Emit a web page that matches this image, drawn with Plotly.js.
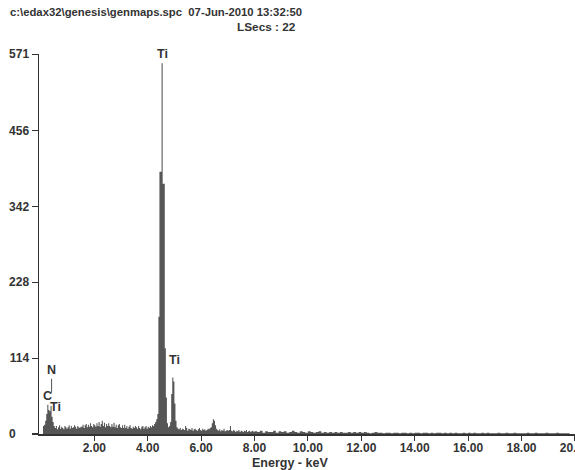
<!DOCTYPE html>
<html>
<head>
<meta charset="utf-8">
<script src="https://cdn.plot.ly/plotly-3.0.1.min.js"></script>
<style>html,body{margin:0;padding:0;background:#fff;}#chart{width:575px;height:470px;}</style>
</head>
<body>
<div id="chart"></div>
<script>
// EDS spectrum, counts per channel
// Segment A: 0.04 keV channels from 0 to 8 keV
var chanWidthA = 0.04;
var countsA = [
  0,0,12,14,20,30,44,36,34,42,26,18,12,
  9,12,7,10,13,8,11,9,7,12,10,8,
  10,13,8,12,9,10,13,11,8,12,10,9,11,
  11,14,9,13,15,10,14,11,16,12,10,15,13,
  11,16,12,18,11,15,20,12,17,10,15,12,
  16,12,10,15,11,17,10,14,9,13,15,10,9,
  13,9,14,9,12,8,11,13,9,8,11,9,12,
  10,8,12,9,7,11,12,8,10,12,8,11,9,12,10,13,12,
  15,18,22,
  30,176,394,394,557,376,376,129,55,16,
  10,12,18,
  60,85,79,46,20,
  10,8,7,9,6,8,7,6,12,9,5,8,7,6,9,5,7,8,6,5,7,9,6,5,8,6,7,5,6,8,7,9,
  10,16,22,20,13,8,
  6,5,7,4,6,5,8,4,5,6,5,6,12,5,4,6,5,3,5,4,6,3,5,4,3,5,4,6,3,4,5,3,4,5,3
];
// Segment B: 0.1 keV channels from 8 to 20 keV
var startB = 8.0;
var chanWidthB = 0.1;
var countsB = [
  4,3,5,2,4,3,3,5,2,4,
  3,4,2,3,5,3,2,4,3,2,
  4,3,2,3,4,2,3,2,3,2,
  3,2,3,2,2,3,2,3,2,3,
  2,3,2,1,2,3,2,2,1,2,
  2,1,2,2,1,2,2,1,2,1,
  2,2,1,2,2,1,2,1,2,2,
  1,2,1,2,1,2,1,1,2,1,
  2,1,2,1,1,2,1,2,1,1,
  1,2,1,1,2,1,1,2,1,1,
  1,1,2,1,1,2,1,1,1,2,
  1,1,1,2,1,1,1,1,0,0
];
var xTickVals = [2,4,6,8,10,12,14,16,18,20];
var xTickText = ["2.00","4.00","6.00","8.00","10.00","12.00","14.00","16.00","18.00","20.00"];
var yTickVals = [0,114,228,342,456,571];
var yTickText = ["0\u2007\u2007","114","228","342","456","571"];
// peak labels: [text, energy keV, counts]
var peakLabels = [
  ["Ti", 4.56, 571],
  ["Ti", 5.02, 111],
  ["N", 0.38, 96],
  ["C", 0.25, 57],
  ["Ti", 0.53, 40]
];
var headerLine1 = "c:\\edax32\\genesis\\genmaps.spc  07-Jun-2010 13:32:50";
var headerLine2 = "LSecs : 22";
var xTitle = "Energy - keV";

var xs = [], ys = [];
countsA.forEach(function(c, i){ xs.push(i*chanWidthA); ys.push(c); });
countsB.forEach(function(c, j){ xs.push(startB + j*chanWidthB); ys.push(c); });
xs.push(20.0); ys.push(0);

var fontFam = "Liberation Sans, Arial, sans-serif";
var txtColor = "#333333";
var yMax = 571;

var trace = {
  x: xs, y: ys, type: "scatter", mode: "lines",
  line: {shape: "hv", width: 0, color: "#565656"},
  fill: "tozeroy", fillcolor: "#565656",
  hoverinfo: "skip"
};

var ann = peakLabels.map(function(p){
  return {text: p[0], x: p[1], y: p[2] / yMax, xref: "x", yref: "paper", showarrow: false,
    font: {family: fontFam, size: 12.5, color: txtColor, weight: "bold"}, xanchor: "center", yanchor: "middle"};
});
ann.push({text: headerLine1, xref: "paper", yref: "paper", x: -31/536, y: 1 + 42/380, xanchor: "left", yanchor: "middle",
  showarrow: false, font: {family: fontFam, size: 11.3, color: txtColor, weight: "bold"}});
ann.push({text: headerLine2, xref: "paper", yref: "paper", x: (298-39)/536, y: 1 + 27/380, xanchor: "right", yanchor: "middle",
  showarrow: false, font: {family: fontFam, size: 11.8, color: txtColor, weight: "bold"}});
ann.push({text: xTitle, xref: "paper", yref: "paper", x: (290-39)/536, y: -(463-434)/380, xanchor: "center", yanchor: "middle",
  showarrow: false, font: {family: fontFam, size: 12.5, color: txtColor, weight: "bold"}});

var layout = {
  width: 575, height: 470,
  margin: {l: 39, r: 0, t: 54, b: 36, pad: 0},
  paper_bgcolor: "#ffffff", plot_bgcolor: "#ffffff",
  showlegend: false,
  xaxis: {
    range: [-0.071, 20.004], tickmode: "array", tickvals: xTickVals, ticktext: xTickText,
    ticks: "outside", ticklen: 5, tickwidth: 1, tickcolor: "#333",
    showline: true, linewidth: 2, linecolor: "#333", showgrid: false, zeroline: false,
    ticklabeloverflow: "allow", ticklabelstandoff: -3,
    tickfont: {family: fontFam, size: 12, color: txtColor, weight: "bold"}, fixedrange: true
  },
  yaxis: {
    range: [0, 571], tickmode: "array", tickvals: yTickVals, ticktext: yTickText,
    ticks: "outside", ticklen: 6, tickwidth: 1, tickcolor: "#333",
    showline: true, linewidth: 1.5, linecolor: "#333", showgrid: false, zeroline: false,
    tickfont: {family: fontFam, size: 12, color: txtColor, weight: "bold"}, fixedrange: true
  },
  annotations: ann,
  shapes: [
    {type: "line", xref: "paper", yref: "y", x0: -7/536, x1: 0, y0: 0, y1: 0, line: {color: "#333", width: 2}},
    {type: "line", xref: "x", yref: "y", x0: 0.40, x1: 0.40, y0: 62, y1: 83, line: {color: "#555", width: 1}}
  ]
};

Plotly.newPlot("chart", [trace], layout, {displayModeBar: false, staticPlot: true});
</script>
</body>
</html>
